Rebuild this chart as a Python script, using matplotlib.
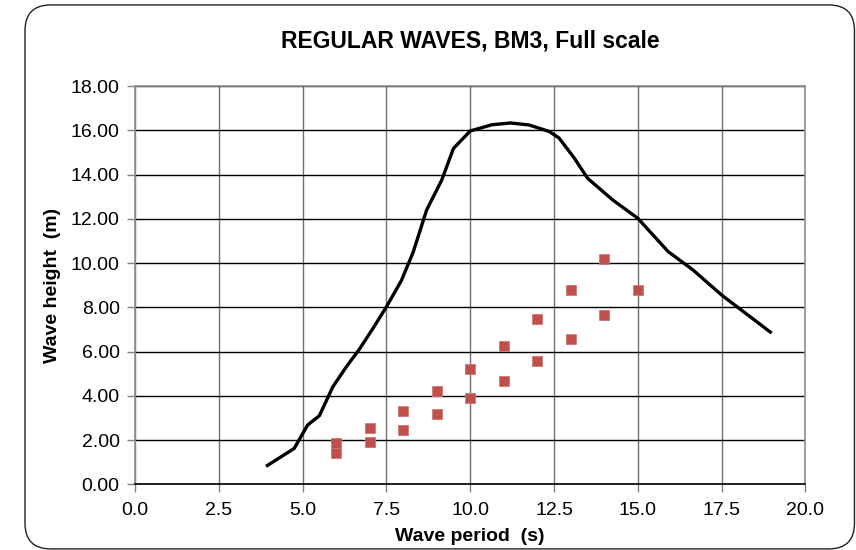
import numpy as np
import matplotlib.pyplot as plt
from matplotlib.patches import FancyBboxPatch

plt.rcParams['font.family'] = ['Liberation Sans', 'DejaVu Sans']

# Limit curve (black line)
curveT = [3.95, 4.75, 5.15, 5.5, 5.9, 6.3, 6.7, 7.1, 7.5, 7.95, 8.3, 8.7, 9.15, 9.5,
          10.0, 10.65, 11.2, 11.75, 12.35, 12.65, 13.1, 13.5, 14.25, 15.0, 15.9,
          16.65, 17.5, 18.95]
curveH = [0.85, 1.62, 2.68, 3.1, 4.4, 5.3, 6.12, 7.05, 8.02, 9.22, 10.5, 12.4, 13.75, 15.18,
          15.97, 16.25, 16.33, 16.24, 15.95, 15.65, 14.75, 13.83, 12.85, 12.02, 10.52,
          9.68, 8.55, 6.88]

# Measured regular waves (red squares)
waveT = [6, 6, 7, 7, 8, 8, 9, 9, 10, 10, 11, 11, 12, 12, 13, 13, 14, 14, 15]
waveH = [1.86, 1.40, 2.56, 1.93, 3.31, 2.46, 4.22, 3.16, 5.20, 3.89, 6.27, 4.69,
         7.48, 5.59, 8.79, 6.57, 10.19, 7.64, 8.76]

xticks = np.arange(0, 20.1, 2.5)
yticks = np.arange(0, 18.1, 2)

fig = plt.figure(figsize=(8.56, 5.5), dpi=100)
ax = fig.add_axes([0.1577, 0.1195, 0.7833, 0.7241])

# rounded frame around the chart
frame = FancyBboxPatch((0.0292, 0.002), 0.969, 0.989,
                       boxstyle="round,pad=0,rounding_size=0.03",
                       mutation_aspect=856 / 550,
                       transform=fig.transFigure, fill=False,
                       edgecolor='#222222', linewidth=1.0)
fig.patches.append(frame)

ax.plot(curveT, curveH, color='black', linewidth=2.4, zorder=3)
ax.plot(waveT, waveH, linestyle='none', marker='s', markersize=7, color='#C0504D',
        markeredgecolor='#D07875', markeredgewidth=0.6, zorder=4)

ax.set_xlim(0, 20)
ax.set_ylim(0, 18)
ax.set_xticks(xticks)
ax.set_yticks(yticks)
ax.set_xticklabels([f"{v:.1f}" for v in xticks])
ax.set_yticklabels([f"{v:.2f}" for v in yticks])
ax.tick_params(labelsize=14, length=6, width=1, colors='#808080', labelcolor='black')
ax.tick_params(axis='x', pad=7)
ax.tick_params(axis='y', pad=5)

ax.grid(axis='y', color='black', linewidth=1)
ax.grid(axis='x', color='#707070', linewidth=1)
ax.set_axisbelow(True)
for s in ['top', 'right', 'left']:
    ax.spines[s].set_color('#909090')
    ax.spines[s].set_linewidth(1.2)
ax.spines['bottom'].set_color('black')
ax.spines['bottom'].set_linewidth(1.2)

fig.text(0.55, 0.926, "REGULAR WAVES, BM3, Full scale", ha='center', va='center',
         fontsize=16.5, fontweight='bold')
ax.set_xlabel("Wave period  (s)", fontsize=14, fontweight='bold', labelpad=6)
ax.set_ylabel("Wave height  (m)", fontsize=14, fontweight='bold', labelpad=7)

fig.savefig("out.png", dpi=100)
